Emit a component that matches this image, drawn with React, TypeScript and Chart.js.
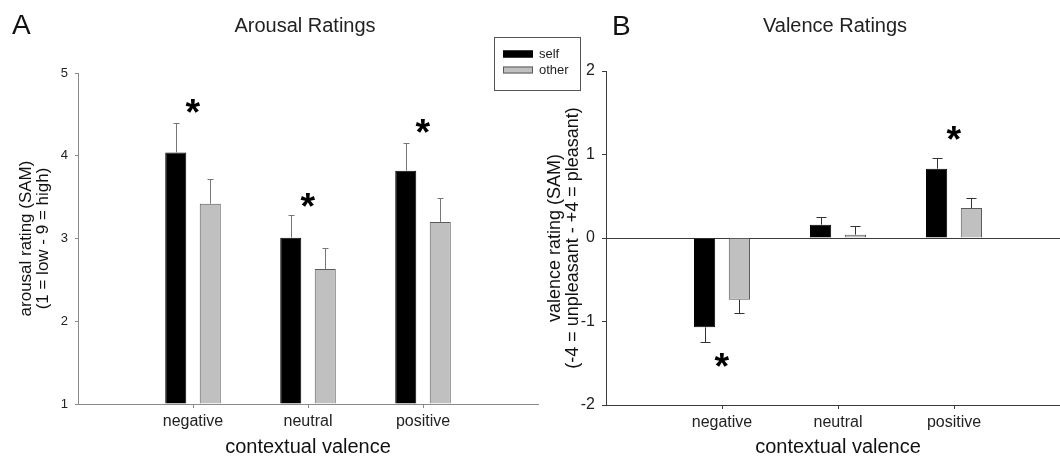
import React, { useEffect, useRef } from "react";
import { Chart, registerables } from "chart.js";

Chart.register(...registerables);

// ---------- data ----------
const categories = ["negative", "neutral", "positive"];
const seriesNames = ["self", "other"];

const arousalTicks = [1, 2, 3, 4, 5];
const arousalSelf = [4.04, 3.01, 3.82];
const arousalSelfErr = [0.36, 0.28, 0.34];
const arousalOther = [3.42, 2.63, 3.2];
const arousalOtherErr = [0.3, 0.26, 0.29];
const arousalStars = [4.6, 3.47, 4.36];

const valenceTicks = [-2, -1, 0, 1, 2];
const valenceSelf = [-1.07, 0.16, 0.83];
const valenceSelfErr = [0.18, 0.09, 0.13];
const valenceOther = [-0.74, 0.04, 0.36];
const valenceOtherErr = [0.16, 0.1, 0.12];
const valenceStars: (number | null)[] = [-1.46, null, 1.26];

const FONT = "'Liberation Sans', Arial, sans-serif";

// ---------- plugins ----------
const errorBarPlugin = {
  id: "errorBars",
  afterDatasetsDraw(chart: any, _args: any, opts: any) {
    const ctx = chart.ctx;
    const ys = chart.scales.y;
    const base = opts.base ?? 0;
    chart.data.datasets.forEach((ds: any, di: number) => {
      const meta = chart.getDatasetMeta(di);
      meta.data.forEach((bar: any, i: number) => {
        const v = ds.data[i].y;
        const e = ds.errors[i];
        const end = v >= base ? v + e : v - e;
        const yEnd = Math.round(ys.getPixelForValue(end)) + 0.5;
        const x = Math.round(bar.x) + 0.5;
        ctx.save();
        ctx.strokeStyle = opts.color;
        ctx.lineWidth = 1;
        ctx.beginPath();
        ctx.moveTo(x, bar.y);
        ctx.lineTo(x, yEnd);
        ctx.moveTo(x - opts.cap, yEnd);
        ctx.lineTo(x + opts.cap, yEnd);
        ctx.stroke();
        ctx.restore();
      });
    });
  },
};

const starPlugin = {
  id: "stars",
  afterDatasetsDraw(chart: any, _args: any, opts: any) {
    const ctx = chart.ctx;
    const xs = chart.scales.x;
    const ys = chart.scales.y;
    ctx.save();
    ctx.font = `bold 40px ${FONT}`;
    const m0 = ctx.measureText("*");
    const w0 = m0.actualBoundingBoxLeft + m0.actualBoundingBoxRight;
    const size = (40 * opts.inkWidth) / (w0 || 16);
    ctx.font = `bold ${size}px ${FONT}`;
    ctx.fillStyle = "#000";
    ctx.textBaseline = "alphabetic";
    ctx.textAlign = "left";
    const m = ctx.measureText("*");
    const inkW = m.actualBoundingBoxLeft + m.actualBoundingBoxRight;
    const inkH = m.actualBoundingBoxAscent + m.actualBoundingBoxDescent;
    (opts.values as (number | null)[]).forEach((v, i) => {
      if (v === null || v === undefined) return;
      const cx = xs.getPixelForValue(i);
      const cy = ys.getPixelForValue(v);
      const x = cx - inkW / 2 + m.actualBoundingBoxLeft;
      const y = cy + inkH / 2 - m.actualBoundingBoxDescent;
      ctx.fillText("*", x, y);
    });
    ctx.restore();
  },
};

const headerPlugin = {
  id: "header",
  afterDraw(chart: any, _args: any, opts: any) {
    const ctx = chart.ctx;
    ctx.save();
    ctx.fillStyle = "#111";
    ctx.textBaseline = "alphabetic";
    ctx.font = `28px ${FONT}`;
    ctx.textAlign = "left";
    ctx.fillText(opts.letter, opts.letterX, opts.letterY);
    ctx.font = `20px ${FONT}`;
    ctx.textAlign = "center";
    ctx.fillStyle = "#222";
    ctx.fillText(opts.title, opts.titleX, opts.titleY);
    ctx.restore();
  },
};

const legendBoxPlugin = {
  id: "legendBox",
  afterDraw(chart: any, _args: any, opts: any) {
    if (!opts.show) return;
    const ctx = chart.ctx;
    const ds = chart.data.datasets;
    ctx.save();
    ctx.strokeStyle = "#555";
    ctx.lineWidth = 1;
    ctx.strokeRect(opts.x + 0.5, opts.y + 0.5, opts.w, opts.h);
    ctx.font = `13px ${FONT}`;
    ctx.textBaseline = "middle";
    ctx.textAlign = "left";
    ds.forEach((d: any, i: number) => {
      const ry = opts.y + opts.firstRow + i * opts.rowGap;
      ctx.fillStyle = d.backgroundColor;
      ctx.fillRect(opts.x + 9, ry - 3.5, 30, 7);
      ctx.strokeStyle = d.borderColor;
      ctx.strokeRect(opts.x + 9.5, ry - 3, 29, 6);
      ctx.fillStyle = "#222";
      ctx.fillText(d.label, opts.x + 45, ry);
    });
    ctx.restore();
  },
};

// ---------- chart builder ----------
function buildConfig(p: any) {
  const toPts = (arr: number[]) => arr.map((v, i) => ({ x: i, y: v }));
  return {
    type: "bar",
    data: {
      datasets: [
        {
          label: seriesNames[0],
          data: toPts(p.self),
          errors: p.selfErr,
          backgroundColor: "#000000",
          borderColor: "#000000",
          borderWidth: 1,
          base: p.base,
          categoryPercentage: 0.6,
          barPercentage: 0.61,
        },
        {
          label: seriesNames[1],
          data: toPts(p.other),
          errors: p.otherErr,
          backgroundColor: "#c0c0c0",
          borderColor: "#5a5a5a",
          borderWidth: 1,
          base: p.base,
          categoryPercentage: 0.6,
          barPercentage: 0.61,
        },
      ],
    },
    options: {
      responsive: false,
      animation: false,
      events: [],
      layout: { padding: p.padding },
      plugins: {
        legend: { display: false },
        tooltip: { enabled: false },
        title: { display: false },
        errorBars: { color: p.errColor, cap: p.cap, base: p.base },
        stars: { values: p.stars, inkWidth: 15 },
        header: p.header,
        legendBox: p.legendBox,
      },
      scales: {
        x: {
          type: "linear",
          min: -1,
          max: 3,
          offset: false,
          afterBuildTicks: (s: any) => {
            s.ticks = categories.map((_, i) => ({ value: i }));
          },
          afterFit: (s: any) => {
            s.height = p.xHeight;
          },
          ticks: {
            callback: (v: number) => categories[v] ?? "",
            font: { family: FONT, size: 16 },
            color: "#222",
            padding: 4,
            maxRotation: 0,
            autoSkip: false,
          },
          grid: {
            display: true,
            drawOnChartArea: false,
            offset: false,
            tickLength: 4,
            tickColor: p.axisColor,
          },
          border: { display: true, color: p.axisColor, width: 1 },
          title: {
            display: true,
            text: "contextual valence",
            font: { family: FONT, size: 20, lineHeight: 1 },
            color: "#111",
            padding: { top: 0, bottom: 0 },
          },
        },
        y: {
          type: "linear",
          min: p.yMin,
          max: p.yMax,
          afterBuildTicks: (s: any) => {
            s.ticks = p.yTicks.map((v: number) => ({ value: v }));
          },
          afterFit: (s: any) => {
            s.width = p.yWidth;
          },
          ticks: {
            font: { family: FONT, size: p.yTickSize },
            color: "#222",
            padding: p.yTickPad,
          },
          grid: {
            display: true,
            drawOnChartArea: p.zeroLine,
            color: (c: any) => (c.tick && c.tick.value === 0 ? p.axisColor : "rgba(0,0,0,0)"),
            tickLength: p.yTickLen,
            tickColor: p.axisColor,
          },
          border: { display: true, color: p.axisColor, width: 1 },
          title: {
            display: true,
            text: p.yTitle,
            font: { family: FONT, size: p.yTitleSize, lineHeight: p.yTitleLH },
            color: "#111",
            padding: { top: p.yTitlePad, bottom: 0 },
          },
        },
      },
    },
    plugins: [errorBarPlugin, starPlugin, headerPlugin, legendBoxPlugin],
  };
}

function ChartCanvas({ params, width, height, left }: any) {
  const ref = useRef<HTMLCanvasElement | null>(null);
  useEffect(() => {
    if (!ref.current) return;
    const chart = new Chart(ref.current, buildConfig(params) as any);
    return () => chart.destroy();
  }, []);
  return (
    <canvas
      ref={ref}
      width={width}
      height={height}
      style={{ position: "absolute", left, top: 0, width, height }}
    />
  );
}

const arousalParams = {
  self: arousalSelf,
  selfErr: arousalSelfErr,
  other: arousalOther,
  otherErr: arousalOtherErr,
  stars: arousalStars,
  base: 1,
  yMin: 1,
  yMax: 5,
  yTicks: arousalTicks,
  yTitle: ["arousal rating (SAM)", "(1 = low - 9 = high)"],
  yTitleSize: 17,
  yTitleLH: 0.98,
  yTitlePad: 18,
  yTickSize: 13,
  yTickPad: 7,
  yTickLen: 3,
  yWidth: 78,
  xHeight: 53,
  padding: { top: 73, right: 7, bottom: 0, left: 0 },
  axisColor: "#8a8a8a",
  errColor: "#777777",
  cap: 3,
  zeroLine: false,
  header: { letter: "A", letterX: 12, letterY: 34, title: "Arousal Ratings", titleX: 305, titleY: 32 },
  legendBox: { show: false },
};

const valenceParams = {
  self: valenceSelf,
  selfErr: valenceSelfErr,
  other: valenceOther,
  otherErr: valenceOtherErr,
  stars: valenceStars,
  base: 0,
  yMin: -2,
  yMax: 2,
  yTicks: valenceTicks,
  yTitle: ["valence rating (SAM)", "(-4 = unpleasant - +4 = pleasant)"],
  yTitleSize: 18,
  yTitleLH: 1,
  yTitlePad: 66,
  yTickSize: 16,
  yTickPad: 7,
  yTickLen: 4,
  yWidth: 126,
  xHeight: 52,
  padding: { top: 71, right: 10, bottom: 0, left: 0 },
  axisColor: "#3a3a3a",
  errColor: "#333333",
  cap: 5,
  zeroLine: true,
  header: { letter: "B", letterX: 132, letterY: 35, title: "Valence Ratings", titleX: 355, titleY: 32 },
  legendBox: { show: true, x: 14, y: 37, w: 86, h: 53, firstRow: 17, rowGap: 16 },
};

export default function App() {
  return (
    <div
      style={{
        position: "absolute",
        left: 0,
        top: 0,
        width: 1060,
        height: 457,
        overflow: "hidden",
        background: "#ffffff",
      }}
    >
      <ChartCanvas params={arousalParams} width={545} height={457} left={0} />
      <ChartCanvas params={valenceParams} width={600} height={457} left={480} />
    </div>
  );
}
